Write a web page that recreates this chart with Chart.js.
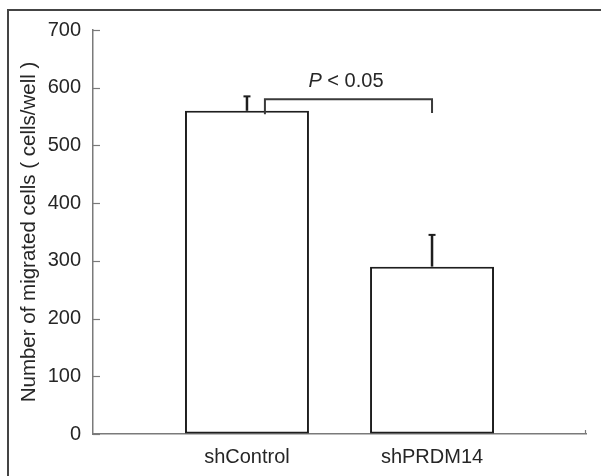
<!DOCTYPE html>
<html>
<head>
<meta charset="utf-8">
<script src="https://cdn.jsdelivr.net/npm/chart.js@4/dist/chart.umd.min.js"></script>
<style>
  html, body { margin: 0; padding: 0; background: #fff; }
  canvas { display: block; }
</style>
</head>
<body>
<canvas id="c" width="601" height="476"></canvas>
<script>
const categories = ['shControl', 'shPRDM14'];
const means = [560, 290];
const errors = [25, 55];
const yTicks = [0, 100, 200, 300, 400, 500, 600, 700];
const sigLabel = ['P', ' < 0.05'];

const FONT = '"Liberation Sans", Arial, sans-serif';
const TEXT = '#262626';
const AXIS = '#7a7a7a';
const BAR = '#1e1e1e';

const overlay = {
  id: 'overlay',
  beforeDraw(chart) {
    const ctx = chart.ctx;
    ctx.save();
    ctx.fillStyle = '#fff';
    ctx.fillRect(0, 0, chart.width, chart.height);
    ctx.strokeStyle = '#444';
    ctx.lineWidth = 2;
    ctx.beginPath();
    ctx.moveTo(8, chart.height);
    ctx.lineTo(8, 10);
    ctx.lineTo(chart.width, 10);
    ctx.stroke();
    ctx.restore();
  },
  afterDraw(chart) {
    const ctx = chart.ctx;
    const xs = chart.scales.x, ys = chart.scales.y;
    ctx.save();
    ctx.strokeStyle = AXIS;
    ctx.lineWidth = 1.2;
    yTicks.forEach(v => {
      const py = Math.round(ys.getPixelForValue(v)) + 0.5;
      ctx.beginPath();
      ctx.moveTo(xs.left, py);
      ctx.lineTo(xs.left + 7, py);
      ctx.stroke();
    });
    ctx.beginPath();
    ctx.moveTo(xs.right - 0.5, ys.bottom);
    ctx.lineTo(xs.right - 0.5, ys.bottom - 4);
    ctx.stroke();

    ctx.strokeStyle = BAR;
    categories.forEach((c, i) => {
      const px = xs.getPixelForValue(i + 1);
      const y0 = ys.getPixelForValue(means[i]);
      const y1 = ys.getPixelForValue(means[i] + errors[i]);
      ctx.lineWidth = 2.5;
      ctx.beginPath();
      ctx.moveTo(px, y0);
      ctx.lineTo(px, y1);
      ctx.stroke();
      ctx.lineWidth = 2;
      ctx.beginPath();
      ctx.moveTo(px - 3.5, y1);
      ctx.lineTo(px + 3.5, y1);
      ctx.stroke();
    });

    const bx1 = xs.getPixelForValue(1.097);
    const bx2 = xs.getPixelForValue(2.0);
    const by = ys.getPixelForValue(580);
    ctx.strokeStyle = '#3a3a3a';
    ctx.lineWidth = 2;
    ctx.beginPath();
    ctx.moveTo(bx1, ys.getPixelForValue(554));
    ctx.lineTo(bx1, by);
    ctx.lineTo(bx2, by);
    ctx.lineTo(bx2, ys.getPixelForValue(556));
    ctx.stroke();

    const cx = xs.getPixelForValue(1.535);
    const ty = ys.getPixelForValue(601);
    ctx.fillStyle = TEXT;
    ctx.textBaseline = 'alphabetic';
    ctx.font = 'italic 20px ' + FONT;
    const w1 = ctx.measureText(sigLabel[0]).width;
    ctx.font = '20px ' + FONT;
    const w2 = ctx.measureText(sigLabel[1]).width;
    const sx = cx - (w1 + w2) / 2;
    ctx.textAlign = 'left';
    ctx.font = 'italic 20px ' + FONT;
    ctx.fillText(sigLabel[0], sx, ty);
    ctx.font = '20px ' + FONT;
    ctx.fillText(sigLabel[1], sx + w1, ty);
    ctx.restore();
  }
};

new Chart(document.getElementById('c'), {
  type: 'bar',
  data: {
    datasets: [{
      data: categories.map((c, i) => ({ x: i + 1, y: means[i] })),
      backgroundColor: '#ffffff',
      borderColor: BAR,
      borderWidth: 2,
      borderSkipped: false,
      categoryPercentage: 1,
      barPercentage: 0.67
    }]
  },
  options: {
    responsive: false,
    animation: false,
    devicePixelRatio: 1,
    layout: { padding: { left: 17, top: 30, right: 15, bottom: 0 } },
    plugins: { legend: { display: false }, tooltip: { enabled: false } },
    scales: {
      x: {
        type: 'linear',
        offset: false,
        min: 0.168,
        max: 2.832,
        afterBuildTicks(scale) { scale.ticks = categories.map((c, i) => ({ value: i + 1 })); },
        afterFit(scale) { scale.height = 42; },
        grid: { display: true, drawOnChartArea: false, drawTicks: false, offset: false },
        border: { display: true, color: AXIS, width: 1.5 },
        ticks: {
          callback: v => categories[v - 1] ?? '',
          color: TEXT,
          font: { family: FONT, size: 20 },
          padding: 11,
          autoSkip: false,
          maxRotation: 0
        }
      },
      y: {
        min: 0,
        max: 700,
        afterBuildTicks(scale) { scale.ticks = yTicks.map(v => ({ value: v })); },
        afterFit(scale) { scale.width = 76; },
        grid: { display: true, drawOnChartArea: false, drawTicks: false },
        border: { display: true, color: AXIS, width: 1.5 },
        ticks: {
          color: TEXT,
          font: { family: FONT, size: 20 },
          padding: 12
        },
        title: {
          display: true,
          text: 'Number of migrated cells ( cells/well )',
          color: TEXT,
          font: { family: FONT, size: 20.5 },
          padding: 0
        }
      }
    }
  },
  plugins: [overlay]
});
</script>
</body>
</html>
